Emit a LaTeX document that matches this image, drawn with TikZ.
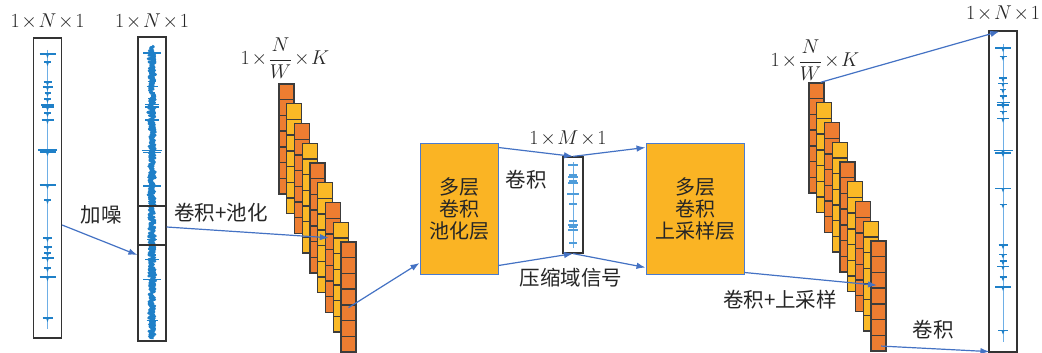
\RequirePackage{fix-cm}
\documentclass[tikz,border=0pt]{standalone}
\usepackage{fontspec}
\newfontfamily\cjk{Noto Sans CJK SC}
\usetikzlibrary{arrows.meta,calc}
\definecolor{arrowblue}{RGB}{68,114,196}
\definecolor{sigblue}{RGB}{31,128,200}
\definecolor{siglight}{RGB}{110,175,230}
\definecolor{sqorange}{RGB}{237,125,49}
\definecolor{sqyellow}{RGB}{250,185,38}
\definecolor{boxfill}{RGB}{250,180,36}
\definecolor{boxedge}{RGB}{74,123,208}
\definecolor{sqedge}{RGB}{60,60,60}
\def\sigticks{0.053/8,0.08/3.5,0.147/4,0.163/5,0.183/3,0.203/3.5,0.223/6.5,0.23/6,0.25/3.5,0.273/6,0.373/9.5,0.38/8,0.49/8,0.54/3.5,0.667/4.5,0.697/4,0.717/3.5,0.733/6,0.767/3.5,0.797/8,0.933/5}
\def\midticks{165/5,175/4,177/5,181/4,183/5,194/6,204/4,221/4,225/5,227/4,230/5,243/4}
\newcommand\drawsig[4]{%
  \draw[siglight, line width=0.7pt] (#1,{#2+0.04*#3}) -- (#1,{#2+0.97*#3});
  \foreach \f/\w in \sigticks {
    \draw[sigblue, line width=1.5pt] ({#1-\w*#4},{#2+\f*#3}) -- ({#1+\w*#4},{#2+\f*#3});
    \fill[sigblue] ({#1-1.6},{#2+\f*#3}) -- ({#1+1.6},{#2+\f*#3}) -- (#1,{#2+\f*#3+4}) -- cycle;
  }}
\newcommand\tms{\mskip1.5mu{\times}\mskip1.5mu}
\begin{document}
\begin{tikzpicture}[x=1pt,y=-1pt,
  colbox/.style={draw=black!80, line width=1.2pt, minimum width=28pt, inner sep=0pt},
  procbox/.style={draw=boxedge, line width=1pt, fill=boxfill, inner sep=0pt,
     font=\cjk\fontsize{20}{22}\selectfont, align=center, text=black!85},
  sq/.style={draw=sqedge, line width=1.4pt, minimum width=15pt, minimum height=15.7pt, inner sep=0pt},
  mathlab/.style={font=\fontsize{20}{22}\selectfont, inner sep=0pt, text=black!85},
  cjklab/.style={font=\cjk\fontsize{20.5}{22}\selectfont, inner sep=0pt, text=black!85},
  arr/.style={draw=arrowblue, line width=1.2pt, -{Latex[length=9pt,width=6.5pt]}}]
\useasboundingbox (0,0) rectangle (1042,353);
\fill[white] (0,0) rectangle (1042,353);

% input columns
\node[colbox, minimum height=300pt] (in1) at (47.5,188) {};
\drawsig{47.5}{38}{300}{1}
\node[colbox, minimum height=304pt] (in2) at (152,189) {};
\pgfmathsetseed{7}
\draw[sigblue, line width=2.6pt, line join=round] (152,46) \foreach \k in {1,...,730} { -- ({152+3.2*rand+2.2*rand*rand*rand},{46+\k*0.4}) };
\foreach \f/\w in \sigticks {
  \draw[sigblue, line width=1.3pt] ({152-\w*1.1},{37+\f*304}) -- ({152+\w*1.1},{37+\f*304});
}
\draw[black!80, line width=1.2pt] (in2.west |- 0,206) -- (in2.east |- 0,206);
\draw[black!80, line width=1.2pt] (in2.west |- 0,245) -- (in2.east |- 0,245);

% left feature stack
\foreach \i/\c in {0/sqorange,1/sqyellow,2/sqorange,3/sqyellow,4/sqorange,5/sqyellow,6/sqorange,7/sqyellow,8/sqorange} {
  \foreach \j in {0,...,6} {
    \node[sq, fill=\c] (L\i-\j) at ({279+7.75*\i+7.5},{84+19.75*\i+7.85+15.7*\j}) {};
  }
}
% right feature stack
\foreach \i/\c in {0/sqorange,1/sqyellow,2/sqorange,3/sqyellow,4/sqorange,5/sqyellow,6/sqorange,7/sqyellow,8/sqorange} {
  \foreach \j in {0,...,6} {
    \node[sq, fill=\c] (R\i-\j) at ({809+7.75*\i+7.5},{83+19.75*\i+7.85+15.7*\j}) {};
  }
}

% process boxes
\node[procbox, minimum width=78pt, minimum height=131pt] (box1) at (459,208.5) {多层\\卷积\\池化层};
\node[procbox, minimum width=98pt, minimum height=131pt] (box2) at (695,208.5) {多层\\卷积\\上采样层};

% compressed column
\node[colbox, minimum width=20pt, minimum height=96pt] (mid) at (573,205) {};
\draw[siglight, line width=0.6pt] (573,162) -- (573,248);
\foreach \y/\w in \midticks {
  \draw[siglight!60!sigblue, line width=1.1pt] ({573-\w},\y) -- ({573+\w},\y);
}

% output column
\node[colbox, minimum height=321pt] (out) at (1003,191.5) {};
\drawsig{1003}{31}{321}{1}

% labels
\node[mathlab] (t1) at (47.5,22) {$1\tms N\tms 1$};
\node[mathlab] (t2) at (152,22) {$1\tms N\tms 1$};
\node[mathlab] (t3) at (285,58) {$1\tms\displaystyle\frac{N}{W}\tms K$};
\node[mathlab] (t4) at (815,60) {$1\tms\displaystyle\frac{N}{W}\tms K$};
\node[mathlab] (t5) at (1003,14) {$1\tms N\tms 1$};
\node[mathlab] (t6) at (568,138) {$1\tms M\tms 1$};

\node[cjklab] (c1) at (101,215) {加噪};
\node[cjklab] (c2) at (221,213) {卷积+池化};
\node[cjklab] (c3) at (526,180) {卷积};
\node[cjklab] (c4) at (571,278) {压缩域信号};
\node[cjklab] (c5) at (780,300) {卷积+上采样};
\node[cjklab] (c6) at (933,330) {卷积};

% arrows
\draw[arr] ($(in1.east)+(0,37)$) -- ($(in2.west)+(0,66)$);
\draw[arr] ($(in2.east)+(0,38)$) -- ($(L6-2.west)+(4,-4)$);
\draw[arr] ($(L8-4.center)+(0,-5)$) -- ($(box1.west)+(0,54.5)$);
\draw[arr] ($(box1.north east)+(0,5)$) -- (mid.north);
\draw[arr] ($(box1.south east)+(0,-9)$) -- (mid.south);
\draw[arr] (mid.north) -- ($(box2.north west)+(0,5)$);
\draw[arr] (mid.south) -- ($(box2.south west)+(0,-7)$);
\draw[arr] ($(box2.south east)+(0,-2)$) -- ($(R8-2.center)+(-1.5,5)$);
\draw[arr] ($(R0-0.north east)+(-4,0)$) -- ($(out.north west)+(11,1)$);
\draw[arr] ($(R8-6.center)+(2.5,3)$) -- ($(out.south west)+(1,-1)$);
\end{tikzpicture}
\end{document}
